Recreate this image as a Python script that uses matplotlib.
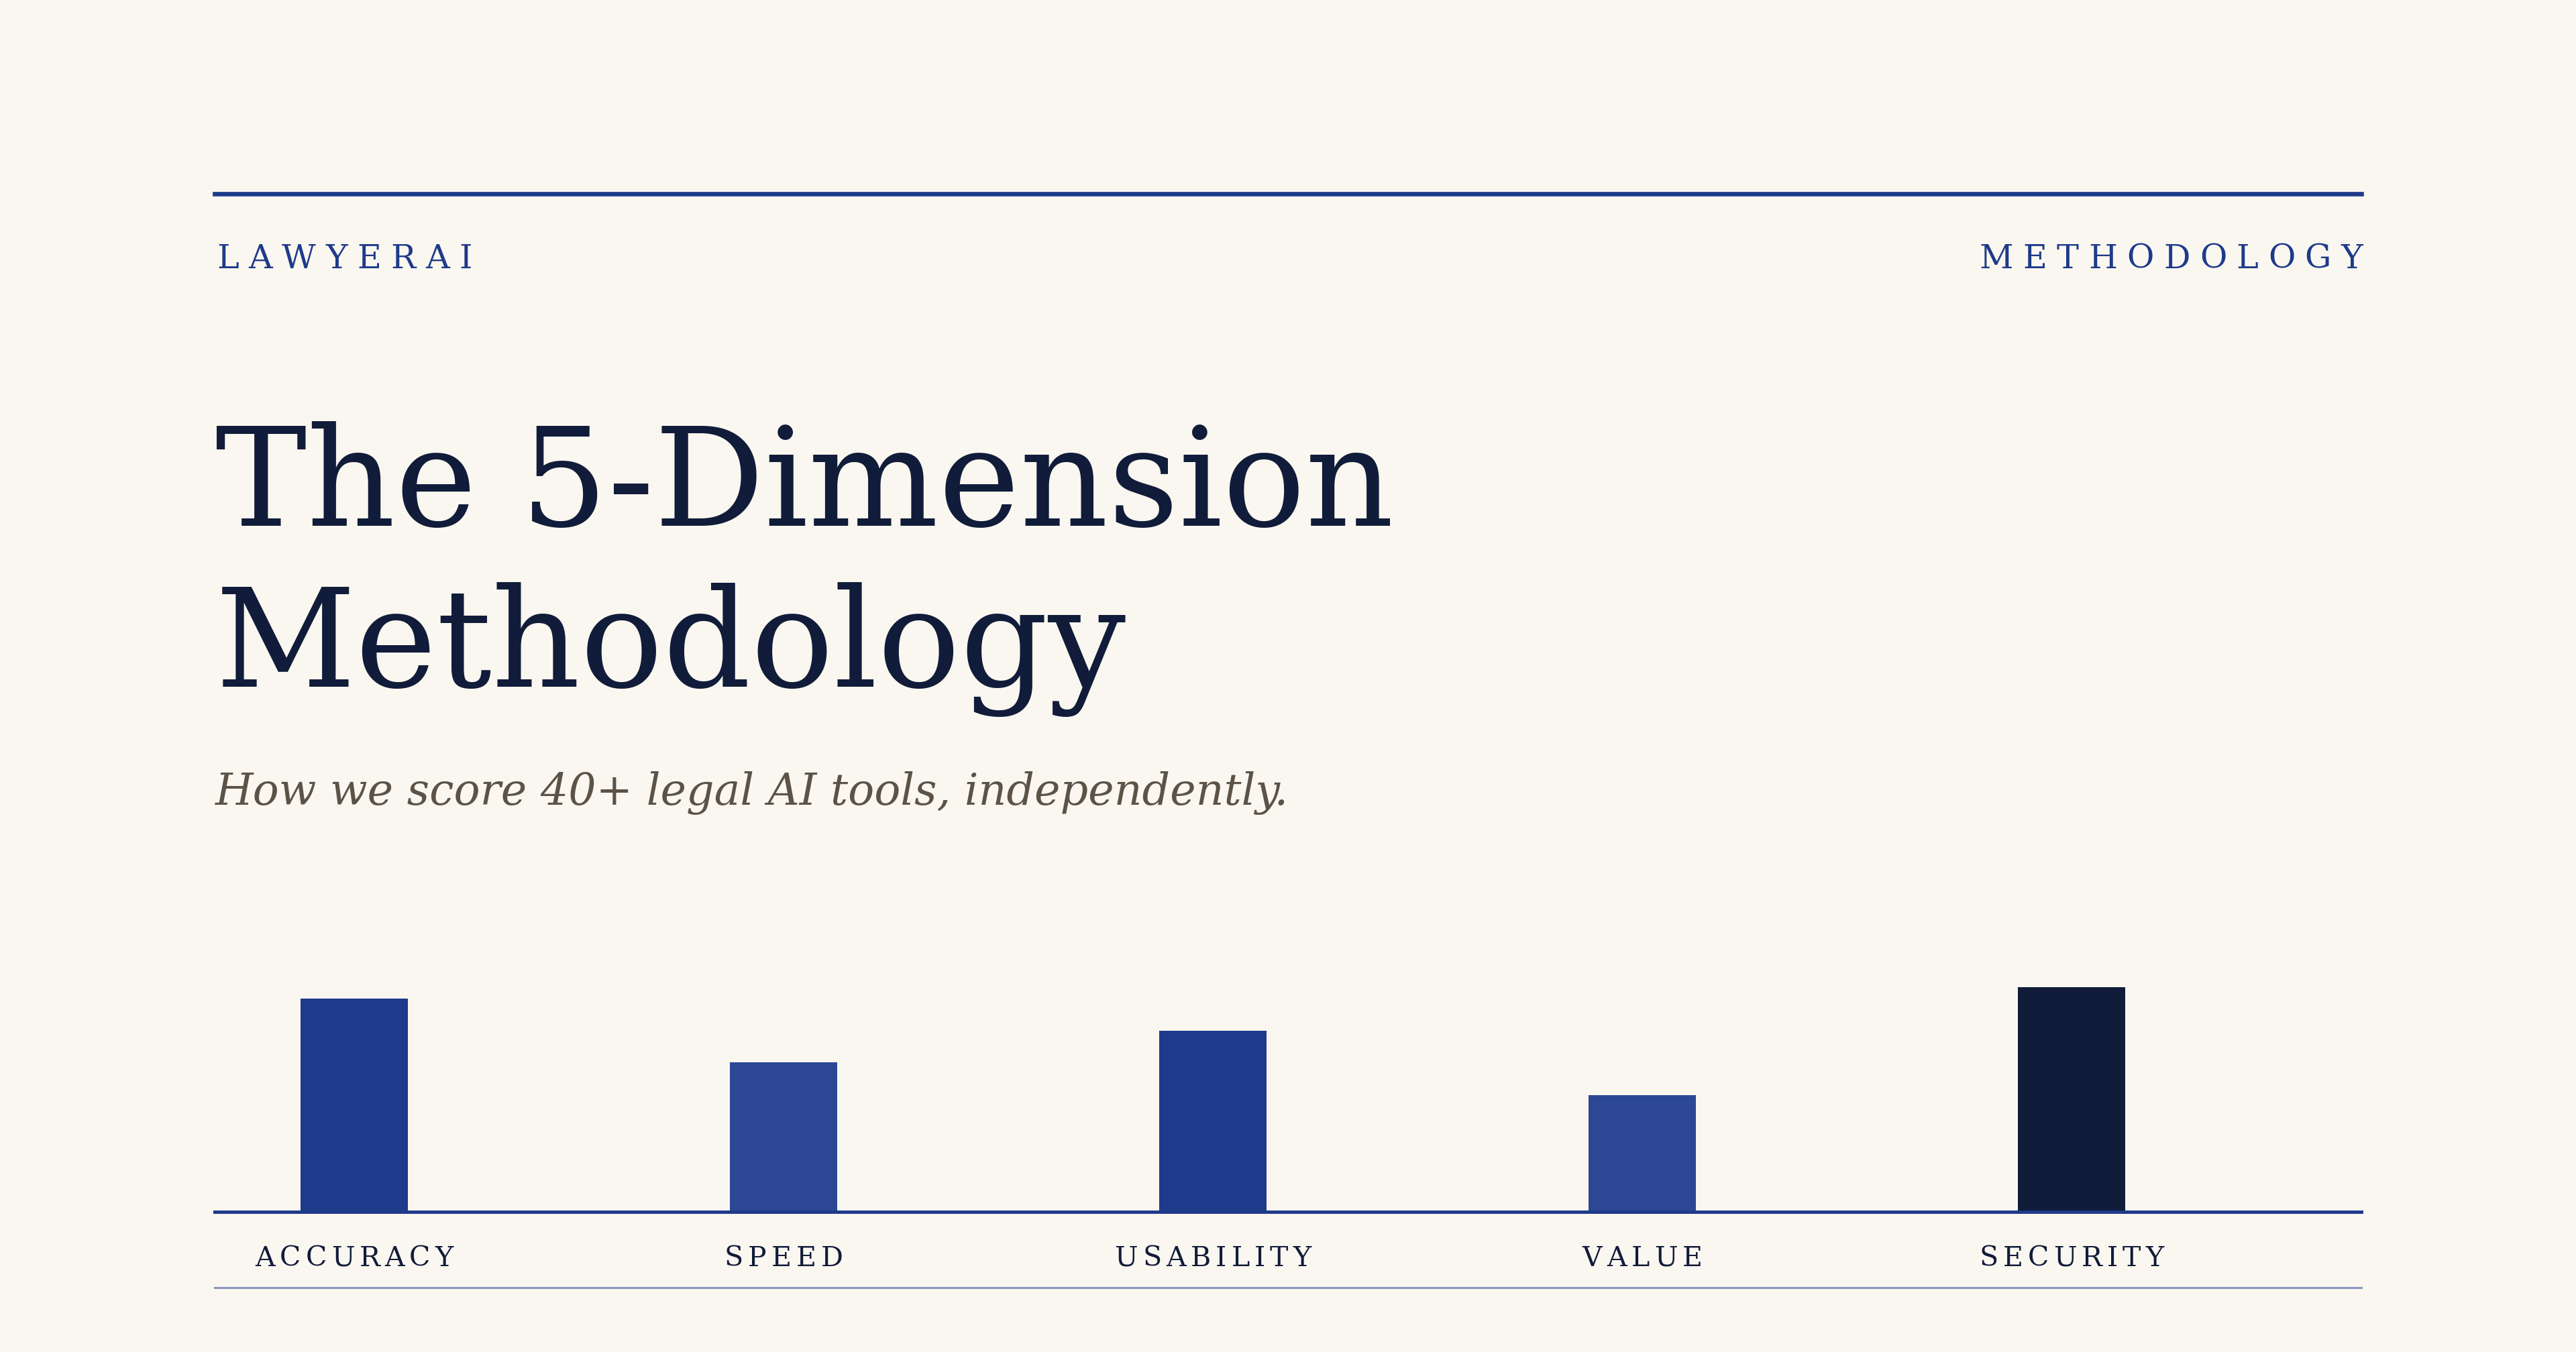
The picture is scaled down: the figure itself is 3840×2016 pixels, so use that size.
import matplotlib
matplotlib.use("Agg")
import matplotlib.pyplot as plt
from matplotlib.lines import Line2D

# data
categories = ["ACCURACY", "SPEED", "USABILITY", "VALUE", "SECURITY"]
scores = [95, 66.5, 80.5, 52, 100]
bar_colors = ["#1e3a8a", "#2c4894", "#1e3a8a", "#2c4894", "#101c3a"]

brand = "LAWYERAI"
section = "METHODOLOGY"
title_lines = ["The 5-Dimension", "Methodology"]
subtitle = "How we score 40+ legal AI tools, independently."

W, H = 3840, 2016
DPI = 200
BG = "#faf7f0"
NAVY = "#1e3a8a"
INK = "#111c3a"
SERIF = "DejaVu Serif"

fig = plt.figure(figsize=(W / DPI, H / DPI), dpi=DPI, facecolor=BG)
renderer = fig.canvas.get_renderer()


def fx(px):
    return px / W


def fy(py):
    return 1 - py / H


def spaced(text, x, y, size, color, spacing, ha="left"):
    # letters one by one, to get the wide letter-spacing
    em = size * DPI / 72
    gap = spacing * em
    widths = []
    for ch in text:
        t = fig.text(0, 0, ch, fontsize=size, family=SERIF)
        widths.append(t.get_window_extent(renderer).width)
        t.remove()
    total = sum(widths) + gap * (len(text) - 1)
    if ha == "right":
        x -= total
    elif ha == "center":
        x -= total / 2
    for ch, w in zip(text, widths):
        fig.text(fx(x), fy(y), ch, fontsize=size, family=SERIF,
                 color=color, va="baseline")
        x += w + gap


# header rule and labels
fig.add_artist(Line2D([fx(320), fx(3520)], [fy(288.5), fy(288.5)],
                      transform=fig.transFigure, color=NAVY, lw=2.4))
spaced(brand, 323, 400, 17.8, NAVY, 0.29)
spaced(section, 3522, 400, 17.8, NAVY, 0.29, ha="right")

# title + subtitle
fig.text(fx(321), fy(784), title_lines[0], fontsize=73.7, family=SERIF,
         color=INK, va="baseline")
fig.text(fx(321), fy(1024), title_lines[1], fontsize=73.7, family=SERIF,
         color=INK, va="baseline")
fig.text(fx(321), fy(1200), subtitle, fontsize=23.4, family=SERIF,
         style="italic", color="#5b5347", va="baseline")

# bar chart
ax = fig.add_axes([fx(320), fy(1807), 3200 / W, 335 / H])
ax.set_facecolor("none")
ax.bar(range(len(scores)), scores, width=0.25, color=bar_colors, zorder=1)
ax.set_xlim(-0.325, 4.675)
ax.set_ylim(0, 100)
ax.set_xticks([])
ax.set_yticks([])
for side in ["top", "left", "right"]:
    ax.spines[side].set_visible(False)
ax.spines["bottom"].set_color(NAVY)
ax.spines["bottom"].set_linewidth(1.8)
ax.spines["bottom"].set_zorder(3)

for i, name in enumerate(categories):
    cx = ax.transData.transform((i, 0))[0]
    spaced(name, cx, 1888, 14.8, INK, 0.17, ha="center")

fig.add_artist(Line2D([fx(320), fx(3520)], [fy(1920), fy(1920)],
                      transform=fig.transFigure, color=NAVY, alpha=0.5, lw=1.1))

fig.savefig("out.png", dpi=DPI, facecolor=BG)
